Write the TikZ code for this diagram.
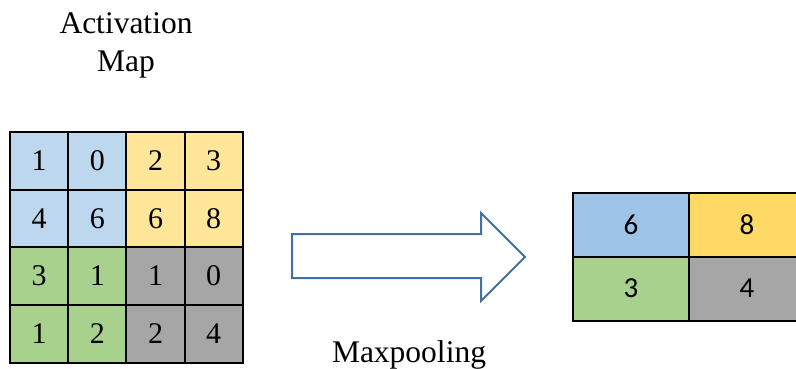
\documentclass[tikz,border=0pt]{standalone}
\usepackage{fontspec}
\setmainfont{Liberation Serif}
\newfontfamily\calfont{Carlito}
\definecolor{cblue}{HTML}{BDD7EE}
\definecolor{cyellow}{HTML}{FFE699}
\definecolor{cgreen}{HTML}{A9D18E}
\definecolor{cgray}{HTML}{A6A6A6}
\definecolor{pblue}{HTML}{9DC3E6}
\definecolor{pyellow}{HTML}{FFD966}
\definecolor{arrowblue}{HTML}{41719C}
\begin{document}
\begin{tikzpicture}[x=1pt,y=-1pt,
  cell/.style={draw=black,line width=2pt,minimum width=58.2pt,minimum height=58pt,
    inner sep=0pt,outer sep=0pt,font=\fontsize{30}{36}\selectfont},
  pcell/.style={draw=black,line width=2pt,minimum width=116pt,minimum height=64pt,
    inner sep=0pt,outer sep=0pt,font=\calfont\fontsize{29}{35}\selectfont},
  label/.style={align=center,inner sep=0pt,font=\fontsize{31.5}{38}\selectfont}]
\useasboundingbox (0,0) rectangle (796,368);

% 4x4 activation map
\foreach \r/\row in {0/{1,0,2,3},1/{4,6,6,8},2/{3,1,1,0},3/{1,2,2,4}}{
  \foreach \v [count=\c from 0] in \row {
    \pgfmathsetmacro{\fillc}{\r<2 ? (\c<2 ? 1 : 2) : (\c<2 ? 3 : 4)}
    \ifcase\fillc\relax\or\def\cc{cblue}\or\def\cc{cyellow}\or\def\cc{cgreen}\or\def\cc{cgray}\fi
    \node[cell,fill=\cc] (a\r\c) at ({10+29.1+58.2*\c},{132+29+57.5*\r}) {\v};
  }
}

% pooled 2x2 map
\node[pcell,fill=pblue]   (p00) at (631,224.5) {6};
\node[pcell,fill=pyellow] (p01) at (747,224.5) {8};
\node[pcell,fill=cgreen]  (p10) at (631,288.5) {3};
\node[pcell,fill=cgray]   (p11) at (747,288.5) {4};

% block arrow
\draw[arrowblue,line width=2pt,line join=miter]
  (292,234) -- (481,234) -- (481,213) -- (525,257) -- (481,301) -- (481,278) -- (292,278) -- cycle;

% labels
\node[label,anchor=base] (title) at (126,71) {Activation\\Map};
\node[label,anchor=base] (op) at (409,362) {Maxpooling};
\end{tikzpicture}
\end{document}
